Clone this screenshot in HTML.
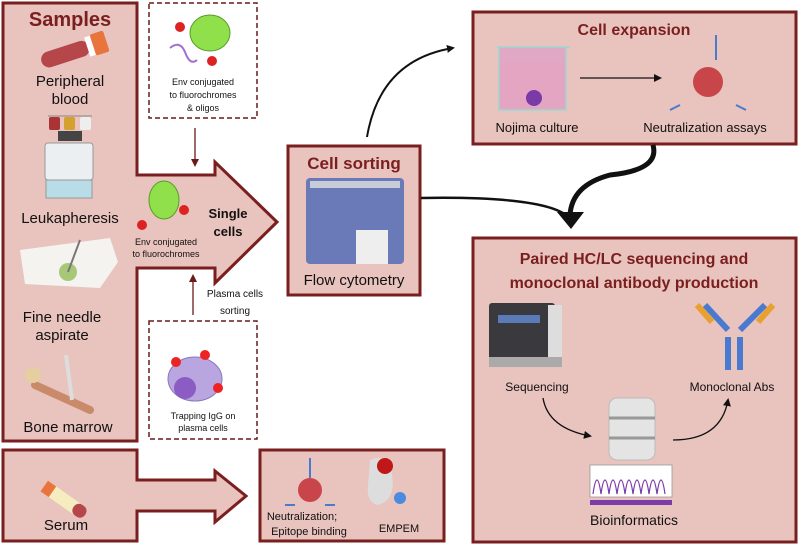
<!DOCTYPE html>
<html><head><meta charset="utf-8"><style>
body{margin:0;background:#fff;}
svg{display:block;font-family:"Liberation Sans",sans-serif;}
.t{font-weight:bold;fill:#7a1f1f;}
.l{fill:#111;}
</style></head><body>
<svg width="800" height="546" viewBox="0 0 800 546" xmlns="http://www.w3.org/2000/svg">
<defs>
<marker id="ah" markerWidth="8" markerHeight="8" refX="6" refY="4" orient="auto" markerUnits="userSpaceOnUse"><path d="M0,0 L8,4 L0,8 z" fill="#111"/></marker>
<marker id="ahm" markerWidth="8" markerHeight="8" refX="6" refY="4" orient="auto" markerUnits="userSpaceOnUse"><path d="M0,0 L8,4 L0,8 z" fill="#6b1a1a"/></marker>
</defs>
<!-- Samples + arrow shape -->
<path d="M3,3 H137 V175 H215 V162 L277,222 L215,283 V268 H137 V441 H3 Z" fill="#e9c3bd" stroke="#7a1f1f" stroke-width="3"/>
<text x="70" y="26" text-anchor="middle" class="t" font-size="20">Samples</text>
<!-- blood tube -->
<g transform="rotate(-18 72 52)"><rect x="40" y="44" width="50" height="16" rx="8" fill="#b5474a"/><rect x="88" y="42" width="6" height="20" fill="#fff"/><rect x="94" y="41" width="14" height="22" rx="2" fill="#e8763c"/></g>
<text x="70" y="86" text-anchor="middle" class="l" font-size="15">Peripheral</text>
<text x="70" y="104" text-anchor="middle" class="l" font-size="15">blood</text>
<!-- leukapheresis machine -->
<line x1="48" y1="116" x2="92" y2="116" stroke="#888"/>
<rect x="49" y="117" width="11" height="13" rx="2" fill="#a33"/><rect x="64" y="117" width="11" height="13" rx="2" fill="#d4a030"/><rect x="80" y="117" width="11" height="13" rx="2" fill="#eee"/>
<rect x="58" y="131" width="24" height="10" fill="#444"/>
<rect x="45" y="143" width="48" height="37" rx="3" fill="#eceff2" stroke="#999"/>
<rect x="46" y="180" width="46" height="18" fill="#b9dde8" stroke="#999"/>
<text x="70" y="223" text-anchor="middle" class="l" font-size="15">Leukapheresis</text>
<!-- FNA -->
<path d="M20,250 L110,238 L118,262 L100,288 L25,284 Z" fill="#f5f3f0"/>
<circle cx="68" cy="272" r="9" fill="#a8c878"/><line x1="68" y1="272" x2="80" y2="240" stroke="#777" stroke-width="2"/>
<text x="62" y="322" text-anchor="middle" class="l" font-size="15">Fine needle</text>
<text x="62" y="340" text-anchor="middle" class="l" font-size="15">aspirate</text>
<!-- bone marrow -->
<line x1="35" y1="385" x2="90" y2="410" stroke="#c98a6a" stroke-width="8" stroke-linecap="round"/>
<circle cx="33" cy="375" r="8" fill="#e5cfa0"/>
<line x1="66" y1="355" x2="72" y2="400" stroke="#ddd" stroke-width="4"/>
<text x="68" y="432" text-anchor="middle" class="l" font-size="15">Bone marrow</text>
<!-- single cells -->
<ellipse cx="164" cy="200" rx="15" ry="19" fill="#8fe04a" stroke="#5a9a2a"/>
<circle cx="142" cy="225" r="5" fill="#d22"/><circle cx="184" cy="210" r="5" fill="#d22"/>
<text x="166" y="245" text-anchor="middle" class="l" font-size="9">Env conjugated</text>
<text x="166" y="257" text-anchor="middle" class="l" font-size="9">to fluorochromes</text>
<text x="228" y="218" text-anchor="middle" class="l" font-size="13" font-weight="bold">Single</text>
<text x="228" y="236" text-anchor="middle" class="l" font-size="13" font-weight="bold">cells</text>
<!-- dashed box top -->
<rect x="149" y="3" width="108" height="115" fill="#fff" stroke="#6b1a1a" stroke-width="1.5" stroke-dasharray="5,3"/>
<ellipse cx="210" cy="33" rx="20" ry="18" fill="#8fe04a" stroke="#5a9a2a"/>
<circle cx="180" cy="27" r="5" fill="#d22"/><circle cx="212" cy="61" r="5" fill="#d22"/>
<path d="M170,48 q10,-8 15,4 q5,14 12,8" fill="none" stroke="#a070d0" stroke-width="2"/>
<text x="203" y="85" text-anchor="middle" class="l" font-size="9">Env conjugated</text>
<text x="203" y="98" text-anchor="middle" class="l" font-size="9">to fluorochromes</text>
<text x="203" y="111" text-anchor="middle" class="l" font-size="9">&amp; oligos</text>
<line x1="195" y1="128" x2="195" y2="165" stroke="#6b1a1a" stroke-width="1.3" marker-end="url(#ahm)"/>
<!-- dashed box bottom -->
<line x1="193" y1="315" x2="193" y2="276" stroke="#6b1a1a" stroke-width="1.3" marker-end="url(#ahm)"/>
<text x="235" y="297" text-anchor="middle" class="l" font-size="10">Plasma cells</text>
<text x="235" y="314" text-anchor="middle" class="l" font-size="10">sorting</text>
<rect x="149" y="321" width="108" height="118" fill="#fff" stroke="#6b1a1a" stroke-width="1.5" stroke-dasharray="5,3"/>
<ellipse cx="195" cy="379" rx="27" ry="22" fill="#b9a6e0" stroke="#8a78c0"/>
<circle cx="185" cy="388" r="11" fill="#8a5cc4"/>
<circle cx="176" cy="362" r="5" fill="#e22"/><circle cx="205" cy="355" r="5" fill="#e22"/><circle cx="218" cy="388" r="5" fill="#e22"/>
<text x="203" y="419" text-anchor="middle" class="l" font-size="9">Trapping IgG on</text>
<text x="203" y="431" text-anchor="middle" class="l" font-size="9">plasma cells</text>
<!-- serum -->
<path d="M3,450 H137 V480 H215 V471 L246,496 L215,522 V511 H137 V541 H3 Z" fill="#e9c3bd" stroke="#7a1f1f" stroke-width="3"/>
<g transform="rotate(35 65 500)"><rect x="40" y="494" width="50" height="13" rx="6" fill="#f5ecc0"/><rect x="40" y="494" width="10" height="13" fill="#e8763c"/><rect x="76" y="494" width="14" height="13" rx="6" fill="#b5474a"/></g>
<text x="66" y="530" text-anchor="middle" class="l" font-size="15">Serum</text>
<!-- neutralization box -->
<rect x="260" y="450" width="184" height="91" fill="#e9c3bd" stroke="#7a1f1f" stroke-width="3"/>
<circle cx="310" cy="490" r="12" fill="#c8464a"/>
<path d="M310,458 V478 M295,505 L285,505 M325,505 L335,505" stroke="#4a7ad0" stroke-width="2"/>
<path d="M370,460 q20,-8 22,15 q4,25 -14,30 q-12,-3 -10,-20 z" fill="#ddd"/><circle cx="385" cy="466" r="8" fill="#c01818"/><circle cx="400" cy="498" r="6" fill="#4a8ae0"/>
<text x="302" y="520" text-anchor="middle" class="l" font-size="11">Neutralization;</text>
<text x="309" y="535" text-anchor="middle" class="l" font-size="11">Epitope binding</text>
<text x="399" y="532" text-anchor="middle" class="l" font-size="11">EMPEM</text>
<!-- cell sorting -->
<rect x="288" y="146" width="132" height="149" fill="#e9c3bd" stroke="#7a1f1f" stroke-width="3"/>
<text x="354" y="169" text-anchor="middle" class="t" font-size="17">Cell sorting</text>
<rect x="306" y="178" width="98" height="86" rx="4" fill="#6a7ab8"/>
<rect x="310" y="181" width="90" height="7" fill="#c8ccd8"/>
<rect x="356" y="230" width="32" height="34" fill="#eee"/>
<text x="354" y="285" text-anchor="middle" class="l" font-size="15">Flow cytometry</text>
<!-- cell expansion -->
<rect x="473" y="12" width="323" height="132" fill="#e9c3bd" stroke="#7a1f1f" stroke-width="3"/>
<text x="634" y="35" text-anchor="middle" class="t" font-size="16">Cell expansion</text>
<path d="M497,47 H570 M499,47 V110 H566 V47" fill="#e0a8c4" stroke="#9cd8d0" stroke-width="1.5"/>
<rect x="500" y="62" width="65" height="47" fill="#e3a5c2"/>
<circle cx="534" cy="98" r="8" fill="#7a3aa8"/>
<line x1="580" y1="78" x2="660" y2="78" stroke="#111" stroke-width="1.3" marker-end="url(#ah)"/>
<circle cx="708" cy="82" r="15" fill="#c8464a"/>
<path d="M716,35 V60 M680,105 L670,110 M736,105 L746,110" stroke="#4a7ad0" stroke-width="2"/>
<text x="537" y="132" text-anchor="middle" class="l" font-size="13">Nojima culture</text>
<text x="705" y="132" text-anchor="middle" class="l" font-size="13">Neutralization assays</text>
<!-- paired -->
<rect x="473" y="238" width="323" height="304" fill="#e9c3bd" stroke="#7a1f1f" stroke-width="3"/>
<text x="634" y="264" text-anchor="middle" class="t" font-size="16">Paired HC/LC sequencing and</text>
<text x="634" y="288" text-anchor="middle" class="t" font-size="16">monoclonal antibody production</text>
<rect x="489" y="303" width="66" height="58" rx="3" fill="#3a3a3e"/><rect x="548" y="305" width="14" height="58" fill="#ddd"/><rect x="489" y="357" width="73" height="10" fill="#aaa"/>
<rect x="498" y="315" width="42" height="8" fill="#5a7ab8"/>
<text x="537" y="391" text-anchor="middle" class="l" font-size="12">Sequencing</text>
<path d="M543,398 q5,30 47,38" fill="none" stroke="#111" stroke-width="1.3" marker-end="url(#ah)"/>
<rect x="609" y="398" width="46" height="62" rx="8" fill="#e4e4e4" stroke="#bbb"/>
<line x1="609" y1="418" x2="655" y2="418" stroke="#999" stroke-width="3"/><line x1="609" y1="438" x2="655" y2="438" stroke="#999" stroke-width="3"/>
<path d="M673,440 q48,0 55,-40" fill="none" stroke="#111" stroke-width="1.3" marker-end="url(#ah)"/>
<rect x="590" y="465" width="82" height="32" fill="#fff" stroke="#999" stroke-width="0.8"/>
<path d="M593,494 q4,-28 8,0 q4,-28 8,0 q4,-28 8,0 q4,-28 8,0 q4,-28 8,0 q4,-28 8,0 q4,-28 8,0 q4,-28 8,0 q4,-28 8,0" fill="none" stroke="#7a3aa8" stroke-width="1.2"/>
<rect x="590" y="500" width="82" height="5" fill="#7a3aa8"/>
<text x="634" y="525" text-anchor="middle" class="l" font-size="14">Bioinformatics</text>
<path d="M728,337 V370 M740,337 V370 M705,305 L728,330 M765,305 L740,330" stroke="#4a7ad0" stroke-width="6"/>
<path d="M697,305 L712,322 M773,305 L758,322" stroke="#e8a030" stroke-width="6"/>
<text x="732" y="391" text-anchor="middle" class="l" font-size="12">Monoclonal Abs</text>
<!-- connectors -->
<path d="M367,137 Q380,60 453,48" fill="none" stroke="#111" stroke-width="2" marker-end="url(#ah)"/>
<path d="M421,198 Q540,196 566,215" fill="none" stroke="#111" stroke-width="2.5"/>
<path d="M653,145 Q660,170 610,175 Q572,185 570,215" fill="none" stroke="#111" stroke-width="5"/>
<path d="M557,212 L584,212 L571,229 Z" fill="#111"/>
</svg>
</body></html>
